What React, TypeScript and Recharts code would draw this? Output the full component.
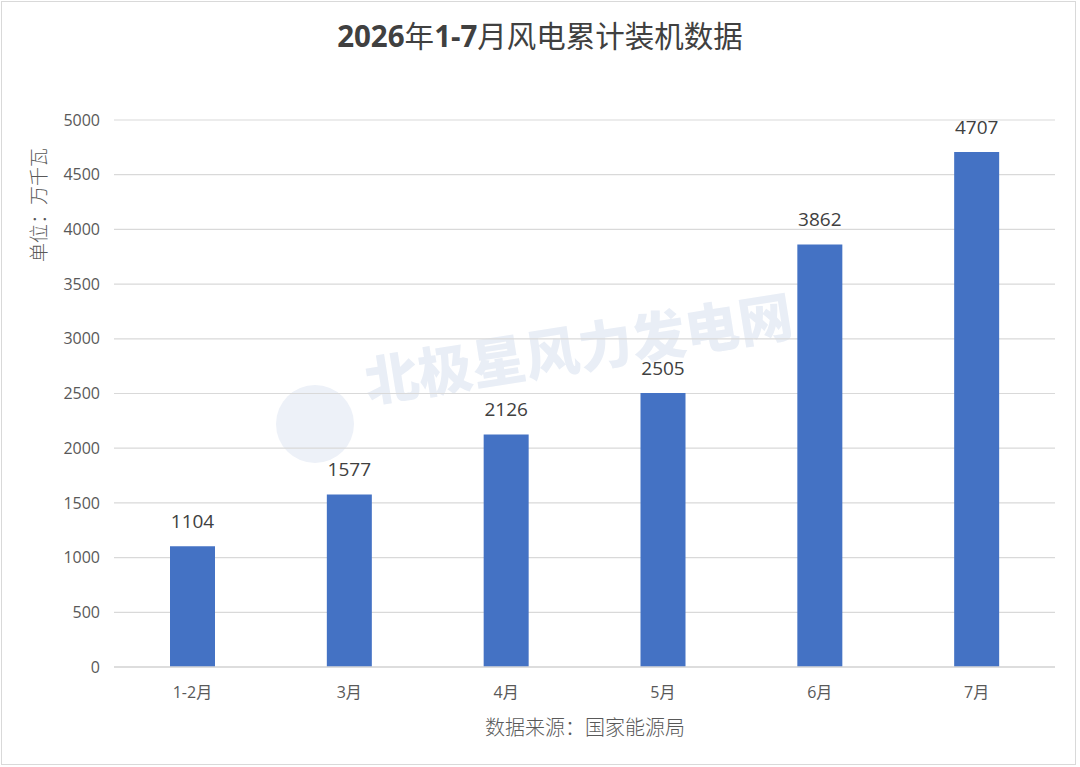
import { BarChart, Bar, XAxis, YAxis, CartesianGrid, LabelList } from 'recharts'

const months = ['1-2月', '3月', '4月', '5月', '6月', '7月']
const installed = [1104, 1577, 2126, 2505, 3862, 4707]
const yTicks = [0, 500, 1000, 1500, 2000, 2500, 3000, 3500, 4000, 4500, 5000]

const rows = months.map((m, i) => ({ month: m, value: installed[i] }))

const font = '"Open Sans", "Noto Sans CJK SC", sans-serif'
const cjk = '"Noto Sans CJK SC", sans-serif'

const App = () => {
  return (
    <div style={{ position: 'absolute', left: 0, top: 0, width: 1080, height: 767, background: '#fff', fontFamily: font }}>
      <div
        style={{
          position: 'absolute',
          left: 1,
          top: 1,
          width: 1075,
          height: 764,
          border: '1.5px solid #d9d9d9',
          boxSizing: 'border-box',
        }}
      />
      <div
        style={{
          position: 'absolute',
          left: 0,
          width: 1080,
          top: 16,
          textAlign: 'center',
          fontSize: 29.5,
          color: '#404040',
          lineHeight: '40px',
          whiteSpace: 'nowrap',
        }}
      >
        <b>2026</b>年<b>1-7</b>月风电累计装机数据
      </div>
      {/* watermark */}
      <div
        style={{
          position: 'absolute',
          left: 362,
          top: 306,
          fontFamily: cjk,
          fontWeight: 900,
          fontSize: 54,
          color: '#e9eef6',
          transform: 'rotate(-9deg)',
          whiteSpace: 'nowrap',
        }}
      >
        北极星风力发电网
      </div>
      <div
        style={{
          position: 'absolute',
          left: 276,
          top: 385,
          width: 78,
          height: 78,
          borderRadius: '50%',
          background: '#edf1f8',
        }}
      />
      <div style={{ position: 'absolute', left: 0, top: 0 }}>
        <BarChart
          width={1080}
          height={767}
          data={rows}
          margin={{ top: 120, right: 25, bottom: 70, left: 54 }}
        >
          <CartesianGrid vertical={false} stroke='#d9d9d9' strokeWidth={1.2} />
          <XAxis
            dataKey='month'
            axisLine={{ stroke: '#d9d9d9', strokeWidth: 1.5 }}
            tickLine={false}
            tickMargin={14}
            tick={{ fontSize: 16, fill: '#595959', fontFamily: font }}
            height={30}
          />
          <YAxis
            domain={[0, 5000]}
            ticks={yTicks}
            width={60}
            axisLine={false}
            tickLine={false}
            tickMargin={8}
            tick={{ fontSize: 16, fill: '#595959', fontFamily: font }}
          />
          <Bar dataKey='value' fill='#4472C4' barSize={45} isAnimationActive={false}>
            <LabelList
              dataKey='value'
              position='top'
              offset={18}
              style={{ fontSize: 19, fill: '#404040', fontFamily: font }}
            />
          </Bar>
        </BarChart>
      </div>
      <div
        style={{
          position: 'absolute',
          left: 37,
          top: 205,
          transform: 'translate(-50%, -50%) rotate(-90deg)',
          fontFamily: cjk,
          fontWeight: 300,
          fontSize: 19,
          color: '#595959',
          whiteSpace: 'nowrap',
        }}
      >
        单位：万千瓦
      </div>
      <div
        style={{
          position: 'absolute',
          left: 585,
          top: 726,
          transform: 'translate(-50%, -50%)',
          fontFamily: cjk,
          fontWeight: 300,
          fontSize: 20,
          color: '#595959',
          whiteSpace: 'nowrap',
        }}
      >
        数据来源：国家能源局
      </div>
    </div>
  )
}

export default App
